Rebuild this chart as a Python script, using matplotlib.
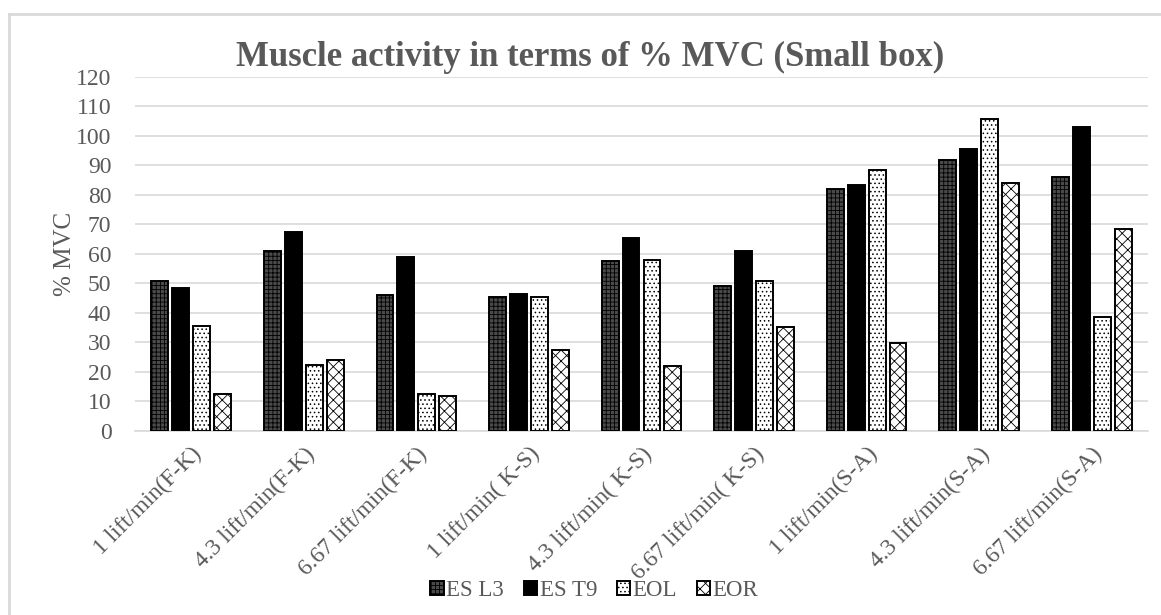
import numpy as np
import matplotlib
matplotlib.use("Agg")
import matplotlib.pyplot as plt
from matplotlib.lines import Line2D

# -----------------------------
# data
# -----------------------------
categories = [
    "1 lift/min(F-K)", "4.3 lift/min(F-K)", "6.67 lift/min(F-K)",
    "1 lift/min( K-S)", "4.3 lift/min( K-S)", "6.67 lift/min( K-S)",
    "1 lift/min(S-A)", "4.3 lift/min(S-A)", "6.67 lift/min(S-A)",
]
series_names = ["ES L3", "ES T9", "EOL", "EOR"]
es_l3 = [51, 61, 46, 45.5, 57.5, 49, 82, 92, 86]
es_t9 = [48.5, 67.5, 59, 46.5, 65.5, 61, 83.5, 95.5, 103]
eol = [35.5, 22.3, 12.7, 45.5, 58, 51, 88.5, 105.6, 38.8]
eor = [12.7, 24, 12, 27.5, 22, 35.4, 29.8, 84.2, 68.6]
y_ticks = list(range(0, 121, 10))

TEXT = "#595959"
GRID = "#d9d9d9"
SERIF = "Liberation Serif"

plt.rcParams["hatch.linewidth"] = 0.6

fig = plt.figure(figsize=(11.61, 6.15), dpi=100)
ax = fig.add_axes([0.1163, 0.2992, 0.8725, 0.5756])

# light outer border like the source chart frame
fig.add_artist(Line2D([0.0078, 0.0078], [-0.01, 0.977], transform=fig.transFigure,
                      color=GRID, lw=2))
fig.add_artist(Line2D([0.0078, 1.01], [0.977, 0.977], transform=fig.transFigure,
                      color=GRID, lw=2))

x = np.arange(len(categories))
pitch = 0.186
width = 0.15
styles = [
    dict(facecolor="#4a4a4a", hatch="++++"),
    dict(facecolor="black", hatch=None),
    dict(facecolor="white", hatch="...."),
    dict(facecolor="white", hatch="xxx"),
]
for i, (vals, name, st) in enumerate(zip([es_l3, es_t9, eol, eor], series_names, styles)):
    ax.bar(x + (i - 1.5) * pitch, vals, width, label=name,
           edgecolor="black", linewidth=1.4, zorder=3, **st)

ax.set_xlim(-0.5, len(categories) - 0.5)
ax.set_ylim(0, 120)
ax.set_yticks(y_ticks)
ax.yaxis.grid(True, color=GRID, linewidth=1.2, zorder=0)
ax.set_axisbelow(True)
for s in ["top", "right", "left"]:
    ax.spines[s].set_visible(False)
ax.spines["bottom"].set_color(GRID)
ax.spines["bottom"].set_linewidth(1.2)
ax.tick_params(length=0)
ax.tick_params(axis="y", pad=17)

ax.set_yticklabels([str(v) for v in y_ticks], family=SERIF, fontsize=17, color=TEXT)
ax.set_xticks(x)
ax.set_xticklabels(categories, rotation=45, ha="right", rotation_mode="anchor",
                   family=SERIF, fontsize=17, color=TEXT)
ax.tick_params(axis="x", pad=9)

ax.set_ylabel("% MVC", family=SERIF, fontsize=18, color=TEXT, labelpad=0)

fig.text(0.508, 0.906, "Muscle activity in terms of % MVC (Small box)",
         ha="center", va="center", family=SERIF, fontsize=25, fontweight="bold",
         color=TEXT)

leg = fig.legend(loc="center", bbox_to_anchor=(0.512, 0.04), ncol=4, frameon=False,
                 prop={"family": SERIF, "size": 16.5}, handlelength=0.6, handleheight=0.6,
                 handletextpad=0.1, columnspacing=0.85, borderaxespad=0)
for t in leg.get_texts():
    t.set_color(TEXT)

fig.savefig("out.png", dpi=100)
